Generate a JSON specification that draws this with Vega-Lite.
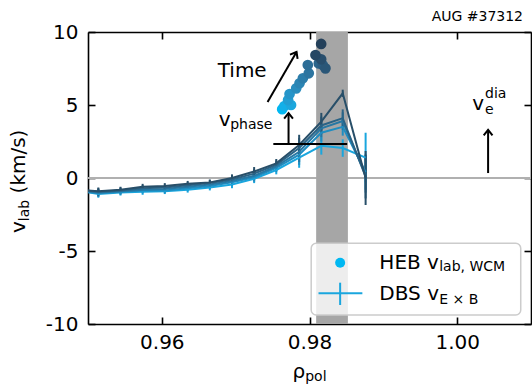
{
"$schema": "https://vega.github.io/schema/vega-lite/v6.json",
"width": 443, "height": 292,
"autosize": {"type": "none"},
"padding": {"left": 88, "top": 32, "right": 1, "bottom": 61},
"background": "white",
"data": {"values": [{}]},
"config": {
  "view": {"stroke": null},
  "font": "DejaVu Sans",
  "axis": {"domainColor": "black", "domainWidth": 1.6, "tickColor": "black", "tickWidth": 1.6, "tickSize": 7, "labelFont": "DejaVu Sans", "labelFontSize": 20, "labelColor": "black", "grid": false, "title": null, "zindex": 1}
},
"datasets": {
"dbs": [
{"s":"s1","rho":0.9484,"v":-0.85,"lo":-1.05,"hi":-0.65},
{"s":"s1","rho":0.9514,"v":-1.10,"lo":-1.35,"hi":-0.85},
{"s":"s1","rho":0.9544,"v":-1.00,"lo":-1.20,"hi":-0.80},
{"s":"s1","rho":0.9574,"v":-0.95,"lo":-1.15,"hi":-0.75},
{"s":"s1","rho":0.9604,"v":-0.90,"lo":-1.10,"hi":-0.70},
{"s":"s1","rho":0.9635,"v":-0.80,"lo":-1.00,"hi":-0.60},
{"s":"s1","rho":0.9665,"v":-0.65,"lo":-0.85,"hi":-0.45},
{"s":"s1","rho":0.9695,"v":-0.45,"lo":-0.70,"hi":-0.20},
{"s":"s1","rho":0.9725,"v":-0.05,"lo":-0.35,"hi":0.25},
{"s":"s1","rho":0.9755,"v":0.55,"lo":0.25,"hi":0.85},
{"s":"s1","rho":0.9786,"v":1.40,"lo":0.70,"hi":2.10},
{"s":"s1","rho":0.9816,"v":2.20,"lo":1.60,"hi":2.80},
{"s":"s1","rho":0.9845,"v":2.05,"lo":1.45,"hi":2.65},
{"s":"s1","rho":0.9876,"v":1.40,"lo":-0.30,"hi":3.10},
{"s":"s2","rho":0.9484,"v":-0.85,"lo":-1.05,"hi":-0.65},
{"s":"s2","rho":0.9514,"v":-1.05,"lo":-1.30,"hi":-0.80},
{"s":"s2","rho":0.9544,"v":-0.95,"lo":-1.15,"hi":-0.75},
{"s":"s2","rho":0.9574,"v":-0.85,"lo":-1.05,"hi":-0.65},
{"s":"s2","rho":0.9604,"v":-0.85,"lo":-1.05,"hi":-0.65},
{"s":"s2","rho":0.9635,"v":-0.70,"lo":-0.90,"hi":-0.50},
{"s":"s2","rho":0.9665,"v":-0.55,"lo":-0.75,"hi":-0.35},
{"s":"s2","rho":0.9695,"v":-0.30,"lo":-0.55,"hi":-0.05},
{"s":"s2","rho":0.9725,"v":0.05,"lo":-0.25,"hi":0.35},
{"s":"s2","rho":0.9755,"v":0.70,"lo":0.40,"hi":1.00},
{"s":"s2","rho":0.9786,"v":1.60,"lo":0.90,"hi":2.30},
{"s":"s2","rho":0.9816,"v":3.10,"lo":2.50,"hi":3.70},
{"s":"s2","rho":0.9845,"v":3.50,"lo":2.90,"hi":4.10},
{"s":"s2","rho":0.9876,"v":0.40,"lo":-0.80,"hi":1.60},
{"s":"s3","rho":0.9484,"v":-0.85,"lo":-1.05,"hi":-0.65},
{"s":"s3","rho":0.9514,"v":-1.00,"lo":-1.25,"hi":-0.75},
{"s":"s3","rho":0.9544,"v":-0.90,"lo":-1.10,"hi":-0.70},
{"s":"s3","rho":0.9574,"v":-0.80,"lo":-1.00,"hi":-0.60},
{"s":"s3","rho":0.9604,"v":-0.75,"lo":-0.95,"hi":-0.55},
{"s":"s3","rho":0.9635,"v":-0.60,"lo":-0.80,"hi":-0.40},
{"s":"s3","rho":0.9665,"v":-0.45,"lo":-0.65,"hi":-0.25},
{"s":"s3","rho":0.9695,"v":-0.20,"lo":-0.45,"hi":0.05},
{"s":"s3","rho":0.9725,"v":0.15,"lo":-0.15,"hi":0.45},
{"s":"s3","rho":0.9755,"v":0.80,"lo":0.50,"hi":1.10},
{"s":"s3","rho":0.9786,"v":1.80,"lo":1.10,"hi":2.50},
{"s":"s3","rho":0.9816,"v":3.40,"lo":2.80,"hi":4.00},
{"s":"s3","rho":0.9845,"v":3.90,"lo":3.30,"hi":4.50},
{"s":"s3","rho":0.9876,"v":0.20,"lo":-1.00,"hi":1.40},
{"s":"s4","rho":0.9484,"v":-0.80,"lo":-1.00,"hi":-0.60},
{"s":"s4","rho":0.9514,"v":-0.95,"lo":-1.20,"hi":-0.70},
{"s":"s4","rho":0.9544,"v":-0.85,"lo":-1.05,"hi":-0.65},
{"s":"s4","rho":0.9574,"v":-0.70,"lo":-0.90,"hi":-0.50},
{"s":"s4","rho":0.9604,"v":-0.65,"lo":-0.85,"hi":-0.45},
{"s":"s4","rho":0.9635,"v":-0.50,"lo":-0.70,"hi":-0.30},
{"s":"s4","rho":0.9665,"v":-0.35,"lo":-0.55,"hi":-0.15},
{"s":"s4","rho":0.9695,"v":-0.10,"lo":-0.35,"hi":0.15},
{"s":"s4","rho":0.9725,"v":0.30,"lo":0.00,"hi":0.60},
{"s":"s4","rho":0.9755,"v":0.90,"lo":0.60,"hi":1.20},
{"s":"s4","rho":0.9786,"v":2.05,"lo":1.35,"hi":2.75},
{"s":"s4","rho":0.9816,"v":3.60,"lo":3.00,"hi":4.20},
{"s":"s4","rho":0.9845,"v":4.10,"lo":3.50,"hi":4.70},
{"s":"s4","rho":0.9876,"v":0.10,"lo":-1.40,"hi":1.60},
{"s":"s5","rho":0.9484,"v":-0.80,"lo":-1.00,"hi":-0.60},
{"s":"s5","rho":0.9514,"v":-0.90,"lo":-1.15,"hi":-0.65},
{"s":"s5","rho":0.9544,"v":-0.80,"lo":-1.00,"hi":-0.60},
{"s":"s5","rho":0.9574,"v":-0.60,"lo":-0.80,"hi":-0.40},
{"s":"s5","rho":0.9604,"v":-0.55,"lo":-0.75,"hi":-0.35},
{"s":"s5","rho":0.9635,"v":-0.40,"lo":-0.60,"hi":-0.20},
{"s":"s5","rho":0.9665,"v":-0.30,"lo":-0.50,"hi":-0.10},
{"s":"s5","rho":0.9695,"v":0.00,"lo":-0.25,"hi":0.25},
{"s":"s5","rho":0.9725,"v":0.45,"lo":0.15,"hi":0.75},
{"s":"s5","rho":0.9755,"v":1.00,"lo":0.70,"hi":1.30},
{"s":"s5","rho":0.9786,"v":2.26,"lo":1.56,"hi":2.96},
{"s":"s5","rho":0.9816,"v":3.86,"lo":3.26,"hi":4.46},
{"s":"s5","rho":0.9845,"v":5.80,"lo":5.55,"hi":6.05},
{"s":"s5","rho":0.9876,"v":0.00,"lo":-1.85,"hi":1.85}
],
"heb": [
{"t":0,"rho":0.9763,"v":4.71},
{"t":1,"rho":0.9766,"v":4.93},
{"t":2,"rho":0.9775,"v":5.00},
{"t":3,"rho":0.9771,"v":5.34},
{"t":4,"rho":0.9773,"v":5.75},
{"t":5,"rho":0.9782,"v":6.14},
{"t":6,"rho":0.97865,"v":6.49},
{"t":7,"rho":0.9791,"v":6.83},
{"t":8,"rho":0.9799,"v":7.17},
{"t":9,"rho":0.97977,"v":7.74},
{"t":10,"rho":0.98126,"v":7.85},
{"t":11,"rho":0.9818,"v":7.74},
{"t":12,"rho":0.98216,"v":7.51},
{"t":13,"rho":0.98158,"v":8.13},
{"t":14,"rho":0.98081,"v":8.42},
{"t":15,"rho":0.98158,"v":9.18}
]
},
"layer": [
{"mark": {"type": "rule", "color": "#b0b0b0", "strokeWidth": 2},
 "encoding": {"y": {"datum": 0, "type": "quantitative", "axis": null}}},
{"mark": {"type": "rect", "color": "#a6a6a6"},
 "encoding": {"x": {"datum": 0.9809, "type": "quantitative", "axis": null}, "x2": {"datum": 0.9852},
              "y": {"datum": -10, "type": "quantitative", "axis": null}, "y2": {"datum": 10}}},
{"data": {"name": "dbs"}, "mark": {"type": "rule", "strokeWidth": 2, "clip": true},
 "encoding": {"x": {"field": "rho", "type": "quantitative",
                    "axis": {"orient": "bottom", "offset": -292, "values": [0.96, 0.98, 1.0], "labels": false}},
              "y": {"field": "lo", "type": "quantitative",
                    "axis": {"orient": "left", "offset": -443, "values": [-10, -5, 0, 5, 10], "labels": false}},
              "y2": {"field": "hi"},
              "color": {"field": "s", "type": "nominal", "scale": {"range": ["#1aa6de", "#1f8dc1", "#2677a3", "#2a6386", "#284f69"]}, "legend": null}}},
{"data": {"name": "dbs"}, "mark": {"type": "line", "strokeWidth": 2, "clip": true},
 "encoding": {"x": {"field": "rho", "type": "quantitative", "scale": {"domain": [0.95, 1.01], "nice": false, "zero": false},
                    "axis": {"orient": "bottom", "values": [0.96, 0.98, 1.0], "format": ".2f", "ticks": false, "domain": false, "labelPadding": 8}},
              "y": {"field": "v", "type": "quantitative", "scale": {"domain": [-10, 10], "nice": false},
                    "axis": {"orient": "left", "values": [-10, -5, 0, 5, 10], "labelExpr": "'' + datum.value", "ticks": false, "domain": false, "labelPadding": 10}},
              "color": {"field": "s", "type": "nominal", "scale": {"range": ["#1aa6de", "#1f8dc1", "#2677a3", "#2a6386", "#284f69"]}, "legend": null}}},
{"data": {"name": "heb"}, "mark": {"type": "circle", "size": 115, "opacity": 1},
 "encoding": {"x": {"field": "rho", "type": "quantitative", "axis": {"orient": "top", "offset": -292, "values": [0.96, 0.98, 1.0], "labels": false}},
              "y": {"field": "v", "type": "quantitative", "axis": {"orient": "right", "offset": -443, "values": [-10, -5, 0, 5, 10], "labels": false}},
              "color": {"field": "t", "type": "quantitative", "scale": {"range": ["#00b8f2", "#24405a"]}, "legend": null}}},
{"mark": {"type": "rule", "color": "black", "strokeWidth": 2},
 "encoding": {"x": {"datum": 0.9751, "type": "quantitative", "axis": null}, "x2": {"datum": 0.9851},
              "y": {"datum": 2.33, "type": "quantitative", "axis": null}}},
{"mark": {"type": "rule", "color": "black", "strokeWidth": 2},
 "encoding": {"x": {"datum": 0.974324, "type": "quantitative", "axis": null}, "x2": {"datum": 0.978243},
              "y": {"datum": 5.205, "type": "quantitative", "axis": null}, "y2": {"datum": 8.63}}},
{"mark": {"type": "point", "shape": "M-0.8,1L0,0L0.8,1", "size": 121, "filled": false, "stroke": "black", "strokeWidth": 2, "opacity": 1, "angle": 30},
 "encoding": {"x": {"datum": 0.978243, "type": "quantitative", "axis": null}, "y": {"datum": 8.63, "type": "quantitative", "axis": null}}},
{"mark": {"type": "rule", "color": "black", "strokeWidth": 2},
 "encoding": {"x": {"datum": 0.977162, "type": "quantitative", "axis": null},
              "y": {"datum": 2.33, "type": "quantitative", "axis": null}, "y2": {"datum": 4.45}}},
{"mark": {"type": "point", "shape": "M-0.8,1L0,0L0.8,1", "size": 121, "filled": false, "stroke": "black", "strokeWidth": 2, "opacity": 1},
 "encoding": {"x": {"datum": 0.977162, "type": "quantitative", "axis": null}, "y": {"datum": 4.45, "type": "quantitative", "axis": null}}},
{"mark": {"type": "rule", "color": "black", "strokeWidth": 2},
 "encoding": {"x": {"datum": 1.004189, "type": "quantitative", "axis": null},
              "y": {"datum": 0.34, "type": "quantitative", "axis": null}, "y2": {"datum": 3.29}}},
{"mark": {"type": "point", "shape": "M-0.8,1L0,0L0.8,1", "size": 121, "filled": false, "stroke": "black", "strokeWidth": 2, "opacity": 1},
 "encoding": {"x": {"datum": 1.004189, "type": "quantitative", "axis": null}, "y": {"datum": 3.29, "type": "quantitative", "axis": null}}},
{"mark": {"type": "text", "text": "Time", "font": "DejaVu Sans", "fontSize": 20, "align": "left", "baseline": "alphabetic", "color": "black"},
 "encoding": {"x": {"datum": 0.96757, "type": "quantitative", "axis": null}, "y": {"datum": 6.92, "type": "quantitative", "axis": null}}},
{"mark": {"type": "text", "text": "v", "font": "DejaVu Sans", "fontSize": 20, "align": "left", "baseline": "alphabetic", "color": "black"},
 "encoding": {"x": {"datum": 0.9677, "type": "quantitative", "axis": null}, "y": {"datum": 3.56, "type": "quantitative", "axis": null}}},
{"mark": {"type": "text", "text": "phase", "font": "DejaVu Sans", "fontSize": 14, "align": "left", "baseline": "alphabetic", "color": "black"},
 "encoding": {"x": {"datum": 0.96926, "type": "quantitative", "axis": null}, "y": {"datum": 3.36, "type": "quantitative", "axis": null}}},
{"mark": {"type": "text", "text": "v", "font": "DejaVu Sans", "fontSize": 20, "align": "left", "baseline": "alphabetic", "color": "black"},
 "encoding": {"x": {"datum": 1.00203, "type": "quantitative", "axis": null}, "y": {"datum": 4.66, "type": "quantitative", "axis": null}}},
{"mark": {"type": "text", "text": "dia", "font": "DejaVu Sans", "fontSize": 14, "align": "left", "baseline": "alphabetic", "color": "black"},
 "encoding": {"x": {"datum": 1.00378, "type": "quantitative", "axis": null}, "y": {"datum": 5.45, "type": "quantitative", "axis": null}}},
{"mark": {"type": "text", "text": "e", "font": "DejaVu Sans", "fontSize": 14, "align": "left", "baseline": "alphabetic", "color": "black"},
 "encoding": {"x": {"datum": 1.00378, "type": "quantitative", "axis": null}, "y": {"datum": 4.36, "type": "quantitative", "axis": null}}},
{"mark": {"type": "text", "text": "AUG #37312", "font": "DejaVu Sans", "fontSize": 14, "align": "right", "baseline": "alphabetic", "color": "black"},
 "encoding": {"x": {"datum": 1.00892, "type": "quantitative", "axis": null}, "y": {"datum": 10.75, "type": "quantitative", "axis": null}}},
{"mark": {"type": "text", "text": "v", "font": "DejaVu Sans", "fontSize": 20, "align": "left", "baseline": "alphabetic", "color": "black", "angle": 270},
 "encoding": {"x": {"datum": 0.941419, "type": "quantitative", "axis": null}, "y": {"datum": -3.767, "type": "quantitative", "axis": null}}},
{"mark": {"type": "text", "text": "lab", "font": "DejaVu Sans", "fontSize": 14, "align": "left", "baseline": "alphabetic", "color": "black", "angle": 270},
 "encoding": {"x": {"datum": 0.941959, "type": "quantitative", "axis": null}, "y": {"datum": -2.959, "type": "quantitative", "axis": null}}},
{"mark": {"type": "text", "text": "(km/s)", "font": "DejaVu Sans", "fontSize": 20, "align": "left", "baseline": "alphabetic", "color": "black", "angle": 270},
 "encoding": {"x": {"datum": 0.941419, "type": "quantitative", "axis": null}, "y": {"datum": -1.055, "type": "quantitative", "axis": null}}},
{"mark": {"type": "text", "text": "ρ", "font": "DejaVu Sans", "fontSize": 20, "align": "left", "baseline": "alphabetic", "color": "black"},
 "encoding": {"x": {"datum": 0.9777, "type": "quantitative", "axis": null}, "y": {"datum": -13.699, "type": "quantitative", "axis": null}}},
{"mark": {"type": "text", "text": "pol", "font": "DejaVu Sans", "fontSize": 14, "align": "left", "baseline": "alphabetic", "color": "black"},
 "encoding": {"x": {"datum": 0.979419, "type": "quantitative", "axis": null}, "y": {"datum": -13.904, "type": "quantitative", "axis": null}}},
{"mark": {"type": "rect", "fill": "white", "fillOpacity": 0.8, "stroke": "#cccccc", "strokeWidth": 1.5, "cornerRadius": 5},
 "encoding": {"x": {"datum": 0.98023, "type": "quantitative", "axis": null}, "x2": {"datum": 1.00861},
              "y": {"datum": -4.47, "type": "quantitative", "axis": null}, "y2": {"datum": -9.38}}},
{"mark": {"type": "circle", "size": 100, "opacity": 1, "color": "#00b8f2"},
 "encoding": {"x": {"datum": 0.98415, "type": "quantitative", "axis": null}, "y": {"datum": -5.8, "type": "quantitative", "axis": null}}},
{"mark": {"type": "rule", "color": "#1aa6de", "strokeWidth": 2},
 "encoding": {"x": {"datum": 0.98122, "type": "quantitative", "axis": null}, "x2": {"datum": 0.98716},
              "y": {"datum": -7.9, "type": "quantitative", "axis": null}}},
{"mark": {"type": "rule", "color": "#1aa6de", "strokeWidth": 2},
 "encoding": {"x": {"datum": 0.98415, "type": "quantitative", "axis": null},
              "y": {"datum": -7.17, "type": "quantitative", "axis": null}, "y2": {"datum": -8.7}}},
{"mark": {"type": "text", "text": "HEB v", "font": "DejaVu Sans", "fontSize": 20, "align": "left", "baseline": "alphabetic", "color": "black"},
 "encoding": {"x": {"datum": 0.98946, "type": "quantitative", "axis": null}, "y": {"datum": -6.233, "type": "quantitative", "axis": null}}},
{"mark": {"type": "text", "text": "lab, WCM", "font": "DejaVu Sans", "fontSize": 14, "align": "left", "baseline": "alphabetic", "color": "black"},
 "encoding": {"x": {"datum": 0.99757, "type": "quantitative", "axis": null}, "y": {"datum": -6.4, "type": "quantitative", "axis": null}}},
{"mark": {"type": "text", "text": "DBS v", "font": "DejaVu Sans", "fontSize": 20, "align": "left", "baseline": "alphabetic", "color": "black"},
 "encoding": {"x": {"datum": 0.98946, "type": "quantitative", "axis": null}, "y": {"datum": -8.356, "type": "quantitative", "axis": null}}},
{"mark": {"type": "text", "text": "E × B", "font": "DejaVu Sans", "fontSize": 14, "align": "left", "baseline": "alphabetic", "color": "black"},
 "encoding": {"x": {"datum": 0.99757, "type": "quantitative", "axis": null}, "y": {"datum": -8.63, "type": "quantitative", "axis": null}}}
],
"resolve": {"scale": {"color": "independent"}, "axis": {"x": "independent", "y": "independent"}}
}
